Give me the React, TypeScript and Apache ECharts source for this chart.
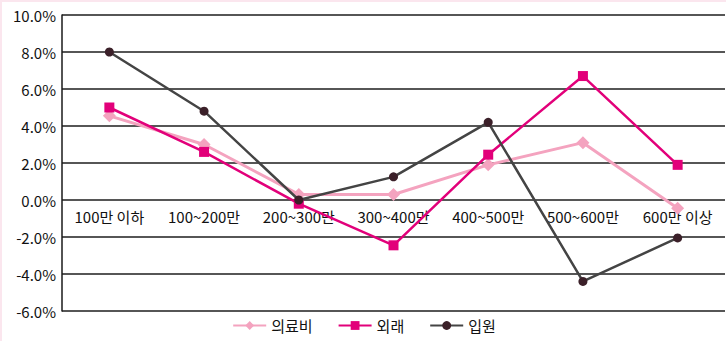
import React, { useEffect, useRef } from "react";
import * as echarts from "echarts";

const categories = ["100만 이하", "100~200만", "200~300만", "300~400만", "400~500만", "500~600만", "600만 이상"];
const medical = [4.55, 3.0, 0.3, 0.3, 1.9, 3.1, -0.45];
const outpatient = [5.0, 2.6, -0.2, -2.45, 2.45, 6.7, 1.9];
const inpatient = [8.0, 4.8, 0.0, 1.25, 4.2, -4.4, -2.05];
const seriesNames = ["의료비", "외래", "입원"];

const FONT = "'Noto Sans CJK KR', 'Noto Sans', sans-serif";
const Y_MIN = -6;
const Y_MAX = 10;
const PLOT_H = 296;

export default function App() {
  const ref = useRef<HTMLDivElement>(null);
  useEffect(() => {
    if (!ref.current) return;
    const chart = echarts.init(ref.current, undefined, { renderer: "svg" });
    const zeroOffset = -(PLOT_H * (0 - Y_MIN)) / (Y_MAX - Y_MIN);
    chart.setOption({
      animation: false,
      backgroundColor: "#ffffff",
      textStyle: { fontFamily: FONT },
      grid: { left: 60, right: 1, top: 13, bottom: 30 },
      legend: {
        bottom: 3,
        left: "center",
        itemWidth: 33,
        itemHeight: 11,
        itemGap: 25,
        textStyle: { fontSize: 15, color: "#111", fontFamily: FONT },
        data: seriesNames,
      },
      xAxis: {
        type: "category",
        data: categories,
        boundaryGap: true,
        offset: zeroOffset,
        axisLine: { show: false, onZero: false },
        axisTick: { show: false },
        axisLabel: { color: "#111", fontSize: 15, margin: 9, fontFamily: FONT, interval: 0 },
      },
      yAxis: {
        type: "value",
        min: Y_MIN,
        max: Y_MAX,
        interval: 2,
        axisLine: { show: true, lineStyle: { color: "#1a1a1a", width: 1.5 } },
        axisTick: { show: false },
        axisLabel: {
          color: "#111",
          fontSize: 15,
          margin: 6,
          fontFamily: FONT,
          formatter: (v: number) => v.toFixed(1) + "%",
        },
        splitLine: { show: true, lineStyle: { color: "#1e1e1e", width: 1.5 } },
      },
      series: [
        {
          name: seriesNames[0],
          type: "line",
          data: medical,
          symbol: "diamond",
          symbolSize: 13,
          itemStyle: { color: "#f4a3bf" },
          lineStyle: { color: "#f4a3bf", width: 3 },
          z: 3,
        },
        {
          name: seriesNames[1],
          type: "line",
          data: outpatient,
          symbol: "rect",
          symbolSize: 10,
          itemStyle: { color: "#e2007a" },
          lineStyle: { color: "#e2007a", width: 2.5 },
          z: 4,
        },
        {
          name: seriesNames[2],
          type: "line",
          data: inpatient,
          symbol: "circle",
          symbolSize: 9,
          itemStyle: { color: "#3b2029" },
          lineStyle: { color: "#444444", width: 2.5 },
          z: 5,
        },
      ],
    });
    return () => chart.dispose();
  }, []);
  return (
    <div
      style={{
        position: "fixed",
        left: 0,
        top: 0,
        width: 726,
        height: 341,
        background: "#fff",
        boxSizing: "border-box",
        borderLeft: "2px solid #fbe6ee",
        borderTop: "2px solid #fbe6ee",
      }}
    >
      <div ref={ref} style={{ width: 724, height: 339 }} />
    </div>
  );
}
